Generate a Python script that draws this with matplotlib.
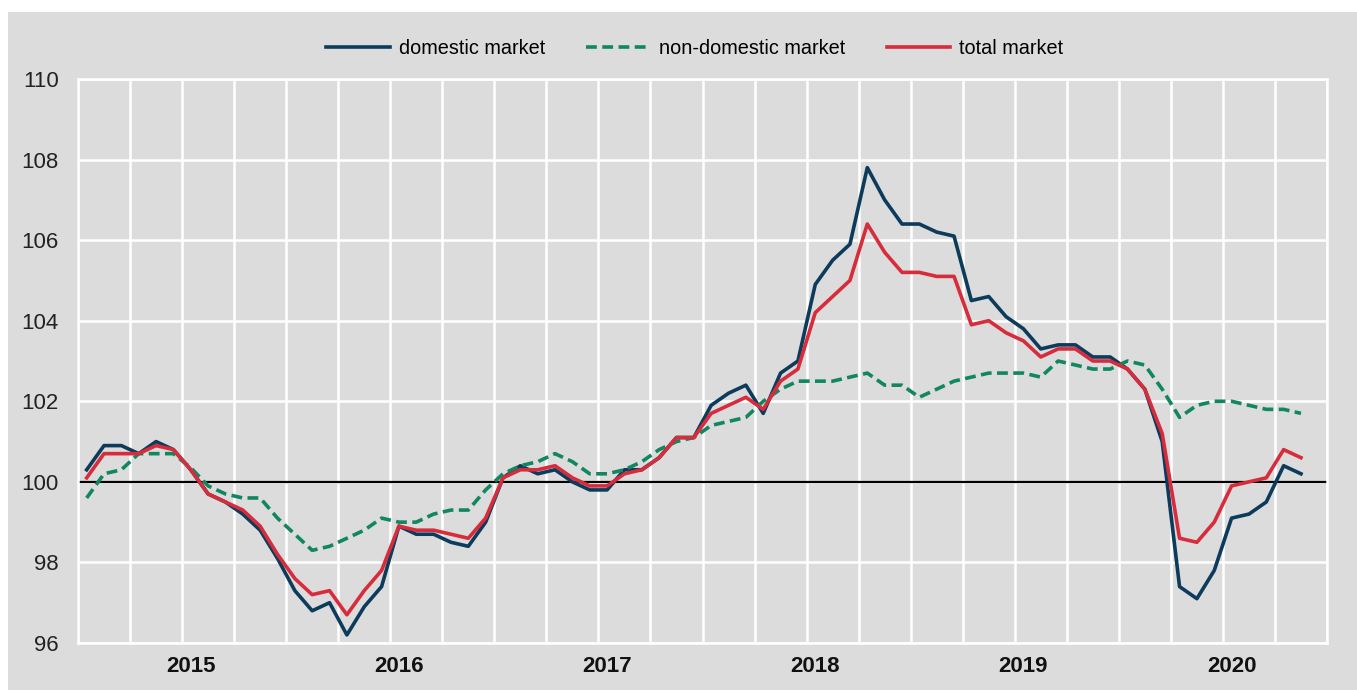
import matplotlib
matplotlib.use("Agg")
import matplotlib.pyplot as plt
from matplotlib import font_manager
from matplotlib.patches import Rectangle

# ---------------- data ----------------
years = ["2015", "2016", "2017", "2018", "2019", "2020"]
year_month_index = [6, 18, 30, 42, 54, 66]   # January of each year (series starts July 2014)

domestic = [100.3, 100.9, 100.9, 100.7, 101.0, 100.8, 100.3, 99.7, 99.5, 99.2,
            98.8, 98.1, 97.3, 96.8, 97.0, 96.2, 96.9, 97.4, 98.9, 98.7,
            98.7, 98.5, 98.4, 99.0, 100.1, 100.4, 100.2, 100.3, 100.0, 99.8,
            99.8, 100.3, 100.3, 100.6, 101.1, 101.1, 101.9, 102.2, 102.4, 101.7,
            102.7, 103.0, 104.9, 105.5, 105.9, 107.8, 107.0, 106.4, 106.4, 106.2,
            106.1, 104.5, 104.6, 104.1, 103.8, 103.3, 103.4, 103.4, 103.1, 103.1,
            102.8, 102.3, 101.0, 97.4, 97.1, 97.8, 99.1, 99.2, 99.5, 100.4,
            100.2]

non_domestic = [99.6, 100.2, 100.3, 100.7, 100.7, 100.7, 100.35, 99.9, 99.7, 99.6,
                99.6, 99.1, 98.7, 98.3, 98.4, 98.6, 98.8, 99.1, 99.0, 99.0,
                99.2, 99.3, 99.3, 99.8, 100.2, 100.4, 100.5, 100.7, 100.5, 100.2,
                100.2, 100.3, 100.5, 100.8, 101.0, 101.1, 101.4, 101.5, 101.6, 102.0,
                102.3, 102.5, 102.5, 102.5, 102.6, 102.7, 102.4, 102.4, 102.1, 102.3,
                102.5, 102.6, 102.7, 102.7, 102.7, 102.6, 103.0, 102.9, 102.8, 102.8,
                103.0, 102.9, 102.3, 101.6, 101.9, 102.0, 102.0, 101.9, 101.8, 101.8,
                101.7]

total = [100.1, 100.7, 100.7, 100.7, 100.9, 100.8, 100.3, 99.7, 99.5, 99.3,
         98.9, 98.2, 97.6, 97.2, 97.3, 96.7, 97.3, 97.8, 98.9, 98.8,
         98.8, 98.7, 98.6, 99.1, 100.1, 100.3, 100.3, 100.4, 100.1, 99.9,
         99.9, 100.2, 100.3, 100.6, 101.1, 101.1, 101.7, 101.9, 102.1, 101.8,
         102.5, 102.8, 104.2, 104.6, 105.0, 106.4, 105.7, 105.2, 105.2, 105.1,
         105.1, 103.9, 104.0, 103.7, 103.5, 103.1, 103.3, 103.3, 103.0, 103.0,
         102.8, 102.3, 101.2, 98.6, 98.5, 99.0, 99.9, 100.0, 100.1, 100.8,
         100.6]

series_labels = ["domestic market", "non-domestic market", "total market"]
y_ticks = [96, 98, 100, 102, 104, 106, 108, 110]

# ---------------- style ----------------
available = {f.name for f in font_manager.fontManager.ttflist}
if "Liberation Sans Narrow" in available:
    FONT = "Liberation Sans Narrow"
    fs_tick, fs_year, fs_leg = 18, 17.5, 16
else:
    FONT = "Liberation Sans"
    fs_tick, fs_year, fs_leg = 16, 16, 14.3
plt.rcParams["font.family"] = [FONT, "DejaVu Sans"]

BG = "#DCDCDC"
C_DOM = "#0D3B5C"
C_NON = "#11875F"
C_TOT = "#D72C3B"

W, H = 1357, 690
fig = plt.figure(figsize=(W / 100, H / 100), dpi=100, facecolor="white")
fig.patches.append(Rectangle((8 / W, 0), 1 - 8 / W, 1 - 12 / H, transform=fig.transFigure,
                             facecolor=BG, edgecolor="none", zorder=-10))

ax = fig.add_axes([78 / W, 1 - 643 / H, (1327 - 78) / W, (643 - 79) / H])
ax.set_facecolor(BG)

x = list(range(len(domestic)))
n_slots = 72
ax.set_xlim(-0.5, n_slots - 0.5)
ax.set_ylim(96, 110)

# grid
grid_pos = [-0.5 + 3 * k for k in range(n_slots // 3 + 1)]
ax.set_xticks(grid_pos)
ax.set_xticklabels([])
ax.set_xticks(year_month_index, minor=True)
ax.set_xticklabels(years, minor=True, fontsize=fs_year, fontweight="bold", color="#111111")
ax.set_yticks(y_ticks)
ax.set_yticklabels([str(v) for v in y_ticks], fontsize=fs_tick, color="#222222")
ax.tick_params(axis="both", which="both", length=0)
ax.tick_params(axis="y", pad=14)
ax.tick_params(axis="x", which="minor", pad=9)
ax.grid(True, which="major", color="white", linewidth=1.8)
ax.set_axisbelow(True)
for s in ax.spines.values():
    s.set_color("white")
    s.set_linewidth(1.8)

ax.axhline(100, color="black", linewidth=1.6, zorder=2)

ax.plot(x, domestic, color=C_DOM, linewidth=2.6, label=series_labels[0], zorder=3)
ax.plot(x, non_domestic, color=C_NON, linewidth=2.6, linestyle=(0, (3.0, 1.5)),
        label=series_labels[1], zorder=3)
ax.plot(x, total, color=C_TOT, linewidth=2.6, label=series_labels[2], zorder=4)

fig.legend(loc="center", bbox_to_anchor=(0.512, 0.930), ncol=3, frameon=False,
           fontsize=fs_leg, handlelength=3.2, handletextpad=0.45, columnspacing=2.1)

fig.savefig("out.png", dpi=100, facecolor="white")
